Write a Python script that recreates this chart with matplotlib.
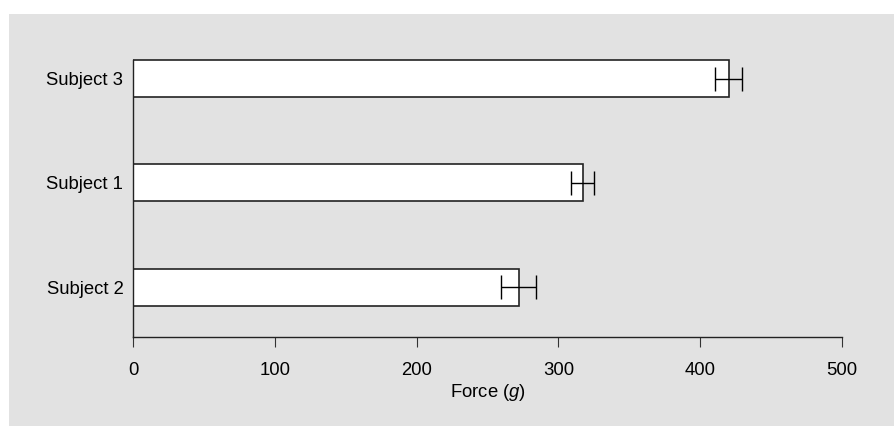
import matplotlib.pyplot as plt
from matplotlib.patches import Rectangle

plt.rcParams['font.family'] = ['Liberation Sans', 'DejaVu Sans']
plt.rcParams['mathtext.fontset'] = 'custom'
plt.rcParams['mathtext.rm'] = 'Liberation Sans'
plt.rcParams['mathtext.it'] = 'Liberation Sans:italic'

subjects = ["Subject 2", "Subject 1", "Subject 3"]
force = [272, 317, 420]
force_err = [12.5, 8, 9.5]

bg = "#e2e2e2"
fs = 13.3

fig = plt.figure(figsize=(8.95, 4.26), dpi=100)
fig.patch.set_facecolor("white")
fig.patches.append(Rectangle((9 / 895, 0), 1, 1 - 14 / 426, transform=fig.transFigure,
                             facecolor=bg, edgecolor="none", zorder=-10))

ax = fig.add_axes([133 / 895, 0.2096, (842 - 133) / 895, 0.9622 - 0.2096])
ax.set_facecolor("none")

ypos = list(range(len(subjects)))
ax.barh(ypos, force, height=0.356, color="white", edgecolor="#222222", linewidth=1.2, zorder=2)
ax.errorbar(force, ypos, xerr=force_err, fmt="none", ecolor="black", elinewidth=1.0,
            capsize=8.6, capthick=1.0, zorder=3)

ax.set_xlim(0, 500)
ax.set_ylim(-0.476, 2.6)
ax.set_xticks([0, 100, 200, 300, 400, 500])
ax.set_yticks(ypos)
ax.set_yticklabels(subjects)

for s in ["top", "right"]:
    ax.spines[s].set_visible(False)
ax.spines["left"].set_bounds(-0.476, 2.178)
for s in ["left", "bottom"]:
    ax.spines[s].set_linewidth(1.0)
    ax.spines[s].set_color("#222222")

ax.tick_params(axis="x", length=7.5, width=0.8, color="#333333", labelsize=fs, pad=11)
ax.tick_params(axis="y", length=0, labelsize=fs, pad=7)

ax.set_xlabel(r"Force $(\mathit{g})$", fontsize=fs, labelpad=2)

fig.savefig("out.png", dpi=100)
